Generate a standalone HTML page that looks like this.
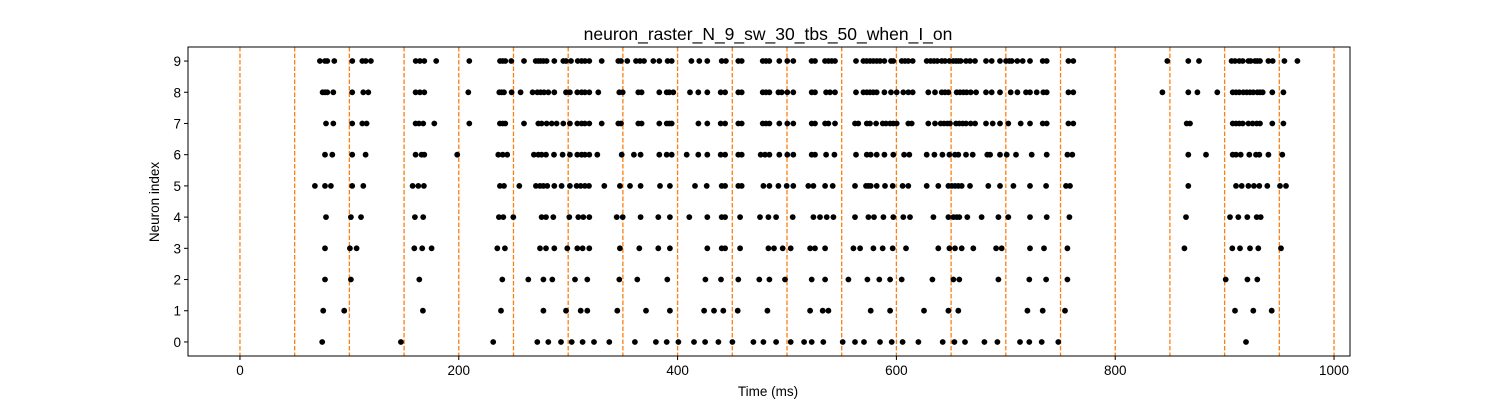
<!DOCTYPE html>
<html><head><meta charset="utf-8"><style>
html,body{margin:0;padding:0;background:#fff;}
svg{display:block;font-family:"Liberation Sans","DejaVu Sans",sans-serif;}
</style></head><body>
<svg id="chart" width="1500" height="400" viewBox="0 0 1500 400" xmlns="http://www.w3.org/2000/svg">
<rect x="0" y="0" width="1500" height="400" fill="#fff"/>
<text x="768" y="40" font-size="17.5" text-anchor="middle">neuron_raster_N_9_sw_30_tbs_50_when_I_on</text>
<g id="grid"></g><g id="dots"></g><g id="axes"></g>
<text x="768" y="396" font-size="13.5" text-anchor="middle">Time (ms)</text>
<text x="159" y="202" font-size="13.5" text-anchor="middle" transform="rotate(-90 159 202)">Neuron index</text>
</svg>
<script>
const neurons=[0,1,2,3,4,5,6,7,8,9];
const stimTimes=[0,50,100,150,200,250,300,350,400,450,500,550,600,650,700,750,800,850,900,950,1000];
const xTicks=[0,200,400,600,800,1000];
const yTicks=[0,1,2,3,4,5,6,7,8,9];
const spikes0=[75.2,147.1,231.5,271.8,281.8,293.4,303.2,313.2,323.6,337.6,361.0,380.2,390.0,400.7,415.0,425.1,437.3,450.1,469.3,478.4,490.0,503.4,515.6,522.6,533.2,550.9,562.2,570.4,585.0,595.7,605.7,620.1,642.3,653.0,662.7,680.4,692.3,713.0,721.5,732.8,748.0,919.5];
const spikes1=[76.1,95.3,167.2,238.6,277.3,298.0,311.4,317.5,344.9,371.1,393.0,424.2,433.3,441.8,454.9,482.1,521.1,532.6,537.8,576.5,594.2,625.2,647.5,656.6,719.7,733.7,754.1,909.5,926.2,943.0];
const spikes2=[77.7,101.4,163.9,239.8,263.5,277.3,285.5,306.2,317.5,346.7,363.2,390.6,425.4,439.7,455.5,474.7,483.9,498.2,522.6,534.8,556.1,573.5,584.4,594.2,604.8,632.9,652.1,657.5,693.2,721.5,736.8,756.3,901.0,920.8,929.9];
const spikes3=[77.7,100.5,106.6,159.3,166.6,175.2,235.2,242.2,274.2,279.7,287.3,299.2,308.3,313.2,319.3,347.3,365.0,382.4,393.0,427.2,440.3,443.4,457.1,483.0,488.1,496.1,503.4,521.1,525.6,534.8,560.7,566.8,579.0,587.5,596.6,608.8,638.3,648.4,653.6,659.7,670.3,691.1,696.2,722.1,734.9,756.3,863.2,907.0,914.1,923.2,930.8,951.5];
const spikes4=[78.6,101.4,110.6,159.9,167.5,236.7,240.7,249.8,275.7,279.7,286.4,301.0,309.2,313.8,319.3,344.3,349.8,366.2,382.4,393.0,410.7,427.2,440.3,443.4,457.1,475.3,483.0,490.0,505.2,524.1,530.2,536.3,542.4,562.2,574.4,579.5,588.1,597.2,606.3,612.4,633.8,647.5,652.1,655.1,657.5,664.8,677.9,693.2,702.3,722.1,737.4,758.1,864.7,904.9,912.5,920.7,929.3,933.0];
const spikes5=[68.5,77.7,83.1,102.6,112.7,157.8,163.0,168.1,237.6,241.3,255.3,270.5,274.2,277.3,280.9,287.3,294.0,301.6,307.7,311.4,315.3,319.0,333.0,347.3,356.5,366.2,383.9,393.0,415.9,426.6,440.3,443.4,455.5,458.6,478.4,483.9,492.1,499.7,505.8,519.5,524.1,534.8,541.8,562.2,572.2,574.4,576.5,582.0,589.6,596.6,605.7,610.9,627.7,638.3,647.5,650.5,653.6,656.6,659.7,667.3,684.0,694.7,706.9,722.1,736.8,755.0,758.7,866.8,910.4,915.6,921.7,926.8,931.7,939.0,950.6,956.1];
const spikes6=[77.7,84.4,102.6,114.8,160.5,166.0,168.5,198.6,236.1,240.1,244.3,268.7,272.7,275.7,279.7,287.0,294.9,301.6,308.3,312.3,315.3,319.3,326.6,348.9,360.1,366.2,383.3,390.0,394.6,408.3,418.9,427.2,439.4,443.4,455.5,458.6,476.0,479.9,483.9,493.0,500.3,505.8,522.6,525.6,535.7,543.3,563.1,572.9,576.5,582.0,589.0,597.2,607.0,611.8,627.7,634.7,642.0,648.4,653.6,656.6,663.6,669.7,683.1,685.6,694.7,700.8,709.3,723.7,737.4,756.3,760.8,866.8,883.0,907.4,910.4,914.7,922.6,928.7,931.7,940.0,952.7];
const spikes7=[78.6,85.3,102.6,111.8,115.7,160.5,163.6,167.5,177.6,209.6,237.6,240.1,242.5,259.6,272.7,275.7,280.3,284.9,289.4,295.5,301.6,308.3,312.3,315.3,319.3,330.6,345.8,348.3,364.1,367.1,383.3,390.0,392.4,394.6,419.0,427.2,439.4,443.4,455.5,458.6,477.8,480.8,483.9,493.0,500.3,505.8,522.6,525.6,534.8,537.8,543.9,562.2,565.2,572.9,575.9,581.4,587.5,590.5,594.2,597.2,600.3,610.9,614.0,629.2,635.3,640.5,643.5,646.6,649.0,654.5,657.5,660.6,663.6,667.9,671.9,681.9,688.0,694.7,702.3,713.6,722.1,733.7,737.4,757.2,761.7,865.3,868.4,907.4,910.4,913.4,916.5,921.7,925.6,929.3,932.3,943.6,953.7];
const spikes8=[75.5,77.7,79.8,85.3,102.6,112.7,117.3,160.5,164.5,168.5,208.7,237.0,239.2,241.3,248.3,256.5,267.5,271.8,274.8,277.9,281.8,287.3,298.0,301.6,308.3,312.3,315.3,319.3,327.5,346.7,349.8,364.1,367.1,383.3,390.0,392.4,396.1,411.3,418.9,427.2,439.4,443.4,455.5,458.6,477.8,480.8,483.9,492.1,495.2,500.3,505.8,522.6,525.6,535.7,539.3,543.9,563.1,569.8,572.9,575.9,578.9,582.0,589.0,595.1,600.3,606.3,610.9,614.9,629.2,635.3,641.4,644.4,647.5,655.1,658.1,661.2,664.2,667.9,672.8,681.9,687.1,694.7,704.5,710.6,718.5,722.1,728.2,734.3,737.4,757.2,761.7,843.1,866.8,875.1,893.3,907.4,910.4,913.4,917.1,920.2,923.2,926.2,929.9,932.3,934.8,943.6,953.7];
const spikes9=[73.1,77.7,79.8,86.2,102.7,111.8,114.9,119.7,160.6,164.5,168.5,179.4,209.6,237.7,240.1,242.5,248.0,259.6,270.3,272.7,274.8,277.3,280.3,287.3,295.5,298.0,302.6,308.7,312.3,315.4,319.3,330.6,345.8,348.3,354.0,362.0,365.6,369.3,377.8,383.3,390.9,394.6,412.6,419.8,427.2,440.3,444.2,455.5,458.6,477.8,480.8,483.8,493.0,500.3,505.8,522.5,525.6,534.7,537.8,540.9,543.9,563.1,569.8,572.8,575.9,578.9,582.0,585.0,589.0,595.1,597.2,604.8,607.9,610.9,614.9,627.7,631.3,634.4,637.4,641.4,644.4,648.4,652.0,654.5,656.6,658.8,663.6,667.3,671.8,681.9,687.1,694.7,700.2,703.2,705.4,710.5,715.4,722.1,733.7,737.4,757.2,761.7,847.6,866.8,876.6,906.4,909.5,913.4,916.5,921.7,923.8,927.8,929.9,932.3,940.0,943.9,954.6,966.5];
const spikeTrains=[spikes0,spikes1,spikes2,spikes3,spikes4,spikes5,spikes6,spikes7,spikes8,spikes9];

const NS='http://www.w3.org/2000/svg';
const L=188,R=1350,T=47,B=356;
const xMin=-47.5,xMax=1014.6,yMin=-0.45,yMax=9.45;
function xs(v){return L+(v-xMin)/(xMax-xMin)*(R-L);}
function ys(v){return B-(v-yMin)/(yMax-yMin)*(B-T);}
function mk(tag,attrs,parent){const e=document.createElementNS(NS,tag);for(const k in attrs)e.setAttribute(k,attrs[k]);parent.appendChild(e);return e;}
const grid=document.getElementById('grid'),dots=document.getElementById('dots'),axes=document.getElementById('axes');
stimTimes.forEach(t=>{
  const ln=mk('line',{x1:xs(t),x2:xs(t),y1:T,y2:B,stroke:'#ff7f0e','stroke-width':1.3,'stroke-dasharray':'4.5,2'},grid);
  
  
});
neurons.forEach(n=>{
  spikeTrains[n].forEach(t=>{
    const c=mk('circle',{cx:xs(t).toFixed(1),cy:ys(n).toFixed(1),r:2.9,fill:'#000'},dots);
    
    
  });
});
const frame=mk('rect',{x:L,y:T,width:R-L,height:B-T,fill:'none',stroke:'#000','stroke-width':1},axes);


xTicks.forEach(t=>{
  mk('line',{x1:xs(t),x2:xs(t),y1:B,y2:B+4,stroke:'#000'},axes);
  const tx=mk('text',{x:xs(t),y:B+19,'font-size':13.5,'text-anchor':'middle'},axes);
  tx.textContent=t;
  
  
});
yTicks.forEach(t=>{
  mk('line',{x1:L-4,x2:L,y1:ys(t),y2:ys(t),stroke:'#000'},axes);
  const tx=mk('text',{x:L-7,y:ys(t)+5,'font-size':13.5,'text-anchor':'end'},axes);
  tx.textContent=t;
  
  
});
</script>
</body></html>
